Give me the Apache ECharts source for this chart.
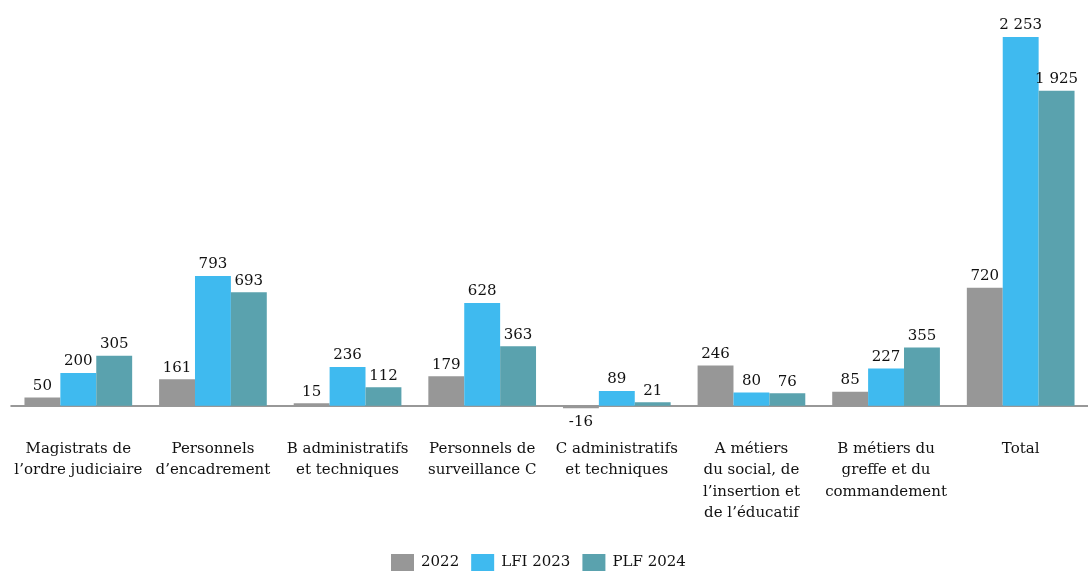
<!DOCTYPE html>
<html><head><meta charset="utf-8">
<script src="https://cdn.jsdelivr.net/npm/echarts@6/dist/echarts.min.js"></script>
<style>html,body{margin:0;padding:0;background:#fff}#c{width:1088px;height:572px}</style>
</head><body><div id="c"></div>
<script>
const categories = ["Magistrats de\nl’ordre judiciaire", "Personnels\nd’encadrement", "B administratifs\net techniques", "Personnels de\nsurveillance C", "C administratifs\net techniques", "A métiers\ndu social, de\nl’insertion et\nde l’éducatif", "B métiers du\ngreffe et du\ncommandement", "Total"];
const seriesNames = ["2022", "LFI 2023", "PLF 2024"];
const v2022 = [50, 161, 15, 179, -16, 246, 85, 720];
const vLFI2023 = [200, 793, 236, 628, 89, 80, 227, 2253];
const vPLF2024 = [305, 693, 112, 363, 21, 76, 355, 1925];
const colors = ["#979797", "#3fbaef", "#5aa2ae"];
const FONT = "DejaVu Serif";
function fmt(v){ const s = Math.abs(v).toString().replace(/\B(?=(\d{3})+(?!\d))/g, " "); return (v<0?"-":"") + s; }
function mk(name, vals, color){
  return {
    name, type: 'bar', barGap: '0%', barCategoryGap: '20%',
    itemStyle: {color},
    data: vals.map(v => v < 0 ? {value: v, label: {position: 'bottom', distance: 6}} : v),
    label: {show: true, position: 'top', distance: 4, color: '#111', fontFamily: FONT, fontSize: 15,
      formatter: p => fmt(p.value)}
  };
}
const chart = echarts.init(document.getElementById('c'));
chart.setOption({
  animation: false,
  textStyle: {fontFamily: FONT},
  grid: {left: 11, right: 0, top: 13, bottom: 150, containLabel: false},
  legend: {bottom: -4, left: 386, itemWidth: 23, itemHeight: 17, itemGap: 12,
    textStyle: {fontFamily: FONT, fontSize: 15, color: '#111', padding: [0, 0, 0, 2]},
    icon: 'rect', data: seriesNames},
  xAxis: {type: 'category', data: categories,
    axisLine: {lineStyle: {color: '#777', width: 1.5}}, axisTick: {show: false},
    axisLabel: {interval: 0, margin: 16, fontFamily: FONT, fontSize: 15, color: '#111', lineHeight: 21.5}},
  yAxis: {type: 'value', min: -100, max: 2400, show: false, splitLine: {show: false}},
  series: [mk(seriesNames[0], v2022, colors[0]), mk(seriesNames[1], vLFI2023, colors[1]), mk(seriesNames[2], vPLF2024, colors[2])]
});
</script></body></html>
